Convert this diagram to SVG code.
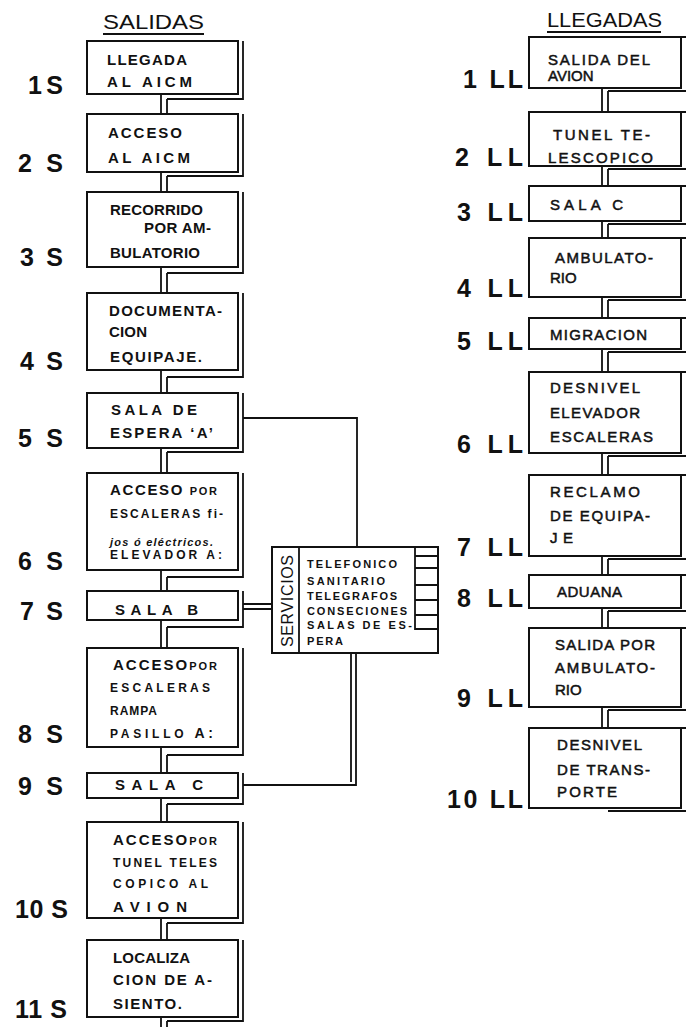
<svg xmlns="http://www.w3.org/2000/svg" width="686" height="1027" viewBox="0 0 686 1027">
<style>
.bg{fill:#fff}
.box{fill:#fff;stroke:#111;stroke-width:2}
.ln{fill:none;stroke:#111;stroke-width:1.8}
.t{font-family:"Liberation Sans",Arial,sans-serif;fill:#111}
.bt{font-size:15px;font-weight:bold}
.sm{font-size:12px;font-weight:bold}
.rt{font-size:15px;stroke:#111;stroke-width:0.5}
.lab{font-size:25px;font-weight:bold}
.ttl{font-size:21px}
.sv{font-size:11px;font-weight:bold}
</style>
<rect class="bg" x="0" y="0" width="686" height="1027"/>

<g id="titles">
<text class="t ttl" x="103" y="29" textLength="101" lengthAdjust="spacingAndGlyphs">SALIDAS</text>
<line class="ln" x1="103" y1="34" x2="204" y2="34"/>
<text class="t ttl" x="547" y="27" textLength="115" lengthAdjust="spacingAndGlyphs">LLEGADAS</text>
<line class="ln" x1="547" y1="32" x2="661" y2="32"/>
</g>

<g id="connectors">
<g class="ln">
<path d="M161 94V114M167 99V114M161 172V192M167 176V192M161 267V293M167 273V293M161 370V393M167 377V393M161 448V473M167 452V473M161 570V591M167 577V591M161 620V648M167 627V648M161 747V773M167 755V773M161 798V822M167 804V822M161 918V940M167 923V940M161 1017V1027M167 1021V1027"/>
<path d="M602 88V112M608 91V112M602 166V186M608 169V186M602 221V238M608 224V238M602 297V318M608 300V318M602 349V372M608 352V372M602 453V475M608 456V475M602 556V575M608 559V575M602 608V628M608 611V628M602 707V728M608 710V728"/>
<path d="M243 418H357V547"/>
<path d="M243 604H272M243 609H272"/>
<path d="M351 653V782M356 653V785H243"/>
</g>
</g>

<g id="s1">
<rect class="box" x="87" y="41" width="151" height="53"/>
<polyline class="ln" points="243,41 243,99 167,99"/>
<text class="t bt" x="107" y="65" textLength="80">LLEGADA</text>
<text class="t bt" x="107" y="87" textLength="85">AL AICM</text>
<text class="t lab" x="28" y="94" textLength="35">1 S</text>
</g>
<g id="s2">
<rect class="box" x="87" y="114" width="151" height="58"/>
<polyline class="ln" points="243,114 243,176 167,176"/>
<text class="t bt" x="108" y="138" textLength="74">ACCESO</text>
<text class="t bt" x="108" y="163" textLength="82">AL AICM</text>
<text class="t lab" x="18" y="172" textLength="45">2 S</text>
</g>
<g id="s3">
<rect class="box" x="87" y="192" width="151" height="75"/>
<polyline class="ln" points="243,192 243,273 167,273"/>
<text class="t bt" x="110" y="215" textLength="93">RECORRIDO</text>
<text class="t bt" x="144" y="233" textLength="67">POR AM-</text>
<text class="t bt" x="110" y="258" textLength="90">BULATORIO</text>
<text class="t lab" x="20" y="266" textLength="43">3 S</text>
</g>
<g id="s4">
<rect class="box" x="87" y="293" width="151" height="77"/>
<polyline class="ln" points="243,293 243,377 167,377"/>
<text class="t bt" x="109" y="316" textLength="113">DOCUMENTA-</text>
<text class="t bt" x="109" y="337" textLength="38">CION</text>
<text class="t bt" x="110" y="362" textLength="92">EQUIPAJE.</text>
<text class="t lab" x="20" y="370" textLength="43">4 S</text>
</g>
<g id="s5">
<rect class="box" x="87" y="393" width="151" height="55"/>
<polyline class="ln" points="243,393 243,452 167,452"/>
<text class="t bt" x="111" y="415" textLength="86">SALA DE</text>
<text class="t bt" x="110" y="438" textLength="103">ESPERA ‘A’</text>
<text class="t lab" x="18" y="447" textLength="45">5 S</text>
</g>
<g id="s6">
<rect class="box" x="87" y="473" width="151" height="97"/>
<polyline class="ln" points="243,473 243,577 167,577"/>
<text class="t bt" x="110" y="495" textLength="107">ACCESO <tspan font-size="11">POR</tspan></text>
<text class="t sm" x="110" y="518" textLength="113">ESCALERAS fi-</text>
<text class="t" x="110" y="546" font-size="11" font-style="italic" font-weight="bold" textLength="103">jos ó eléctricos.</text>
<text class="t sm" x="110" y="559" textLength="112">ELEVADOR A:</text>
<text class="t lab" x="18" y="570" textLength="45">6 S</text>
</g>
<g id="s7">
<rect class="box" x="87" y="591" width="151" height="29"/>
<polyline class="ln" points="243,591 243,627 167,627"/>
<text class="t bt" x="115" y="615" textLength="83">SALA B</text>
<text class="t lab" x="20" y="620" textLength="43">7 S</text>
</g>
<g id="s8">
<rect class="box" x="87" y="648" width="151" height="99"/>
<polyline class="ln" points="243,648 243,755 167,755"/>
<text class="t bt" x="113" y="670" textLength="104">ACCESO<tspan font-size="11">POR</tspan></text>
<text class="t sm" x="110" y="692" textLength="100">ESCALERAS</text>
<text class="t sm" x="110" y="715" textLength="47">RAMPA</text>
<text class="t sm" x="110" y="738" textLength="103">PASILLO <tspan font-size="14">A:</tspan></text>
<text class="t lab" x="18" y="743" textLength="45">8 S</text>
</g>
<g id="s9">
<rect class="box" x="87" y="773" width="151" height="25"/>
<polyline class="ln" points="243,773 243,804 167,804"/>
<text class="t bt" x="115" y="790" textLength="88">SALA C</text>
<text class="t lab" x="18" y="795" textLength="45">9 S</text>
</g>
<g id="s10">
<rect class="box" x="87" y="822" width="151" height="96"/>
<polyline class="ln" points="243,822 243,923 167,923"/>
<text class="t bt" x="113" y="845" textLength="104">ACCESO<tspan font-size="11">POR</tspan></text>
<text class="t sm" x="113" y="867" textLength="104">TUNEL TELES</text>
<text class="t sm" x="113" y="888" textLength="95">COPICO AL</text>
<text class="t bt" x="113" y="912" textLength="74">AVION</text>
<text class="t lab" x="15" y="918" textLength="53">10 S</text>
</g>
<g id="s11">
<rect class="box" x="87" y="940" width="151" height="77"/>
<polyline class="ln" points="243,940 243,1021 167,1021"/>
<text class="t bt" x="113" y="963" textLength="77">LOCALIZA</text>
<text class="t bt" x="113" y="985" textLength="99">CION DE A-</text>
<text class="t bt" x="113" y="1009" textLength="69">SIENTO.</text>
<text class="t lab" x="15" y="1018" textLength="52">11 S</text>
</g>

<g id="servicios">
<rect class="box" x="272" y="547" width="166" height="106"/>
<line class="ln" x1="299" y1="547" x2="299" y2="653"/>
<path class="ln" d="M415 547V630M415 556H438M415 568H438M415 585H438M415 600H438M415 615H438M415 629H438"/>
<text class="t" font-size="16" transform="translate(293,647) rotate(-90)" textLength="92">SERVICIOS</text>
<text class="t sv" x="307" y="568" textLength="90">TELEFONICO</text>
<text class="t sv" x="307" y="585" textLength="78">SANITARIO</text>
<text class="t sv" x="307" y="600" textLength="90">TELEGRAFOS</text>
<text class="t sv" x="307" y="615" textLength="100">CONSECIONES</text>
<text class="t sv" x="307" y="629" textLength="105">SALAS DE ES-</text>
<text class="t sv" x="307" y="645" textLength="36">PERA</text>
</g>

<g id="ll1">
<rect class="box" x="529" y="37" width="152" height="51"/>
<path class="ln" d="M681 37H686M608 91H686"/>
<text class="t rt" x="548" y="65" textLength="102">SALIDA DEL</text>
<text class="t rt" x="548" y="81" font-size="13">AVION</text>
<text class="t lab" x="463" y="88" textLength="60">1 LL</text>
</g>
<g id="ll2">
<rect class="box" x="529" y="112" width="152" height="54"/>
<path class="ln" d="M681 112H686M608 169H686"/>
<text class="t rt" x="553" y="140" textLength="97">TUNEL TE-</text>
<text class="t rt" x="548" y="163" textLength="105">LESCOPICO</text>
<text class="t lab" x="455" y="166" textLength="68">2 LL</text>
</g>
<g id="ll3">
<rect class="box" x="529" y="186" width="152" height="35"/>
<path class="ln" d="M681 186H686M608 224H686"/>
<text class="t rt" x="550" y="210" textLength="73">SALA  C</text>
<text class="t lab" x="457" y="221" textLength="66">3 LL</text>
</g>
<g id="ll4">
<rect class="box" x="529" y="238" width="152" height="59"/>
<path class="ln" d="M681 238H686M608 300H686"/>
<text class="t rt" x="555" y="263" textLength="98">AMBULATO-</text>
<text class="t rt" x="550" y="283">RIO</text>
<text class="t lab" x="457" y="297" textLength="66">4 LL</text>
</g>
<g id="ll5">
<rect class="box" x="529" y="318" width="152" height="31"/>
<path class="ln" d="M681 318H686M608 352H686"/>
<text class="t rt" x="550" y="340" textLength="97">MIGRACION</text>
<text class="t lab" x="457" y="350" textLength="66">5 LL</text>
</g>
<g id="ll6">
<rect class="box" x="529" y="372" width="152" height="81"/>
<path class="ln" d="M681 372H686M608 456H686"/>
<text class="t rt" x="550" y="393" textLength="90">DESNIVEL</text>
<text class="t rt" x="550" y="418" textLength="90">ELEVADOR</text>
<text class="t rt" x="550" y="442" textLength="103">ESCALERAS</text>
<text class="t lab" x="457" y="453" textLength="66">6 LL</text>
</g>
<g id="ll7">
<rect class="box" x="529" y="475" width="152" height="81"/>
<path class="ln" d="M681 475H686M608 559H686"/>
<text class="t rt" x="550" y="497" textLength="90">RECLAMO</text>
<text class="t rt" x="550" y="521" textLength="100">DE EQUIPA-</text>
<text class="t rt" x="550" y="543" textLength="23">JE</text>
<text class="t lab" x="457" y="556" textLength="66">7 LL</text>
</g>
<g id="ll8">
<rect class="box" x="529" y="575" width="152" height="33"/>
<path class="ln" d="M681 575H686M608 611H686"/>
<text class="t rt" x="557" y="597" textLength="65">ADUANA</text>
<text class="t lab" x="457" y="607" textLength="66">8 LL</text>
</g>
<g id="ll9">
<rect class="box" x="529" y="628" width="152" height="79"/>
<path class="ln" d="M681 628H686M608 710H686"/>
<text class="t rt" x="555" y="650" textLength="100">SALIDA POR</text>
<text class="t rt" x="555" y="673" textLength="100">AMBULATO-</text>
<text class="t rt" x="555" y="695">RIO</text>
<text class="t lab" x="457" y="707" textLength="66">9 LL</text>
</g>
<g id="ll10">
<rect class="box" x="529" y="728" width="152" height="80"/>
<path class="ln" d="M681 728H686M608 811H686"/>
<text class="t rt" x="557" y="750" textLength="85">DESNIVEL</text>
<text class="t rt" x="557" y="775" textLength="93">DE TRANS-</text>
<text class="t rt" x="557" y="797" textLength="60">PORTE</text>
<text class="t lab" x="447" y="808" textLength="76">10 LL</text>
</g>
</svg>
